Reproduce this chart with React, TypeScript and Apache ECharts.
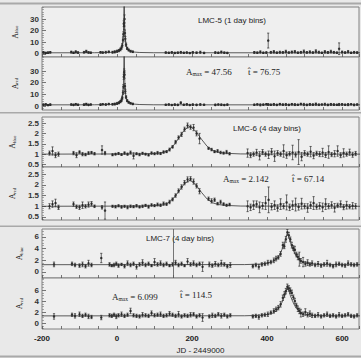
import React, { useEffect, useRef } from "react";
import * as echarts from "echarts";

// ---------------- DATA ----------------
// LMC-5 (1 day bins)
const lmc5Days = [-196,-190,-184,-178,-122,-116,-110,-104,-88,-82,-76,-70,-44,-38,-30,-22,-12,-6,0,5,9,12,14,16,17,18,19,20,21,22,24,27,31,36,42,130,138,146,154,162,170,178,186,194,202,212,222,232,262,270,278,286,294,366,374,382,390,398,403,410,418,426,434,442,450,458,466,474,482,490,498,506,514,522,530,538,546,554,562,570,578,586,592,600,608,616,624,632,640];
const lmc5Blue = [1.3,0.9,1.1,1.4,1.6,1.0,1.8,1.2,1.5,2.2,1.3,1.1,1.4,1.2,1.5,1.8,1.5,1.8,2.3,2.9,3.9,5.3,7.5,12,17,26,24,30,18,13,8.0,4.8,3.4,2.4,1.9,1.2,1.0,1.3,0.9,1.1,1.4,1.0,1.2,0.8,1.3,1.1,1.5,0.9,1.2,1.0,1.6,1.1,0.9,1.3,1.1,1.7,1.0,1.2,11.5,1.4,1.8,1.1,1.5,1.3,2.0,1.2,1.6,1.9,1.1,1.4,2.1,1.3,1.7,1.2,2.2,1.5,1.0,1.8,1.3,2.0,1.4,1.1,4.5,1.6,1.2,1.9,1.0,1.4,1.2];
const lmc5BlueErr = [0.6,0.5,0.7,0.6,0.8,0.6,0.9,0.7,0.7,1.0,0.6,0.5,0.7,0.6,0.8,0.7,0.8,0.9,1.0,1.0,1.2,1.3,1.5,1.8,2.0,2.5,3.0,3.5,2.5,2.0,1.5,1.0,0.9,0.8,0.7,0.6,0.5,0.7,0.5,0.6,0.8,0.5,0.6,0.5,0.7,0.6,0.9,0.5,0.7,0.6,0.9,0.6,0.5,0.8,0.6,1.0,0.6,0.7,6.4,0.8,1.1,0.6,0.9,0.7,1.2,0.6,0.9,1.1,0.6,0.8,1.3,0.7,1.0,0.7,1.4,0.9,0.6,1.1,0.8,1.2,0.8,0.6,5.0,0.9,0.7,1.1,0.6,0.8,0.7];
const lmc5Red = [1.1,1.4,0.8,1.2,1.3,1.0,1.5,1.1,1.2,1.6,1.0,1.3,1.2,1.5,1.3,1.7,1.5,1.7,2.2,2.8,3.8,5.0,7.2,11.5,16.5,25,29,27,17,12.5,7.6,4.6,3.2,2.4,1.8,1.1,1.3,0.9,1.2,1.0,2.8,1.1,1.4,0.9,1.2,1.0,1.3,1.1,1.0,1.3,1.1,0.9,1.2,1.1,1.4,1.0,1.2,1.5,1.3,1.1,1.4,1.0,1.6,1.2,1.3,1.0,1.5,1.2,1.1,1.7,1.3,1.0,1.4,1.2,1.6,1.1,1.3,1.5,1.0,1.4,1.2,1.1,1.3,1.4,1.1,1.2,1.5,1.0,1.3];
const lmc5RedErr = [0.5,0.6,0.5,0.6,0.6,0.5,0.7,0.6,0.6,0.8,0.5,0.5,0.6,0.5,0.7,0.6,0.7,0.8,0.9,0.9,1.0,1.2,1.4,1.6,1.8,2.2,2.8,3.2,2.2,1.8,1.3,0.9,0.8,0.7,0.6,0.5,0.6,0.5,0.6,0.5,0.8,0.5,0.6,0.5,0.6,0.5,0.7,0.5,0.6,0.5,0.7,0.5,0.5,0.6,0.5,0.8,0.5,0.6,0.7,0.6,0.8,0.5,0.7,0.6,0.9,0.5,0.7,0.8,0.5,0.7,1.0,0.6,0.8,0.6,1.0,0.7,0.5,0.9,0.6,0.8,0.7,0.5,0.9,0.7,0.6,0.9,0.5,0.7,0.6];
const lmc5FitDays = [-200,-120,-60,-21,-6,4,9,12,15,17,18,19,20,21,23,26,29,34,44,59,98,160,650];
const lmc5FitBlue = [1,1.02,1.07,1.3,1.7,2.7,3.9,5.5,9.5,17.8,30,47.6,30,17.8,9.5,5.5,3.9,2.7,1.7,1.3,1.07,1.02,1];
const lmc5FitRed = [1,1.02,1.07,1.3,1.7,2.7,3.9,5.5,9.5,17.8,30,47.6,30,17.8,9.5,5.5,3.9,2.7,1.7,1.3,1.07,1.02,1];

// LMC-6 (4 day bins)
const lmc6Days = [-180,-172,-164,-156,-116,-108,-100,-92,-84,-76,-68,-60,-40,-32,-12,-4,4,12,20,28,36,44,52,60,68,76,84,92,100,108,116,124,132,140,148,156,164,172,180,188,196,204,212,220,244,252,260,268,276,284,292,300,348,356,364,372,380,388,396,404,412,420,428,436,444,452,460,468,476,484,492,500,508,516,524,532,540,548,556,564,572,580,588,596,604,612,620,628,636];
const lmc6Blue = [1.05,1.15,0.95,1.0,1.05,0.95,1.1,1.0,0.98,1.05,1.08,1.02,1.2,1.05,0.97,1.0,1.03,0.98,1.05,1.0,1.08,0.92,1.02,0.98,1.04,1.0,0.96,1.05,1.02,1.06,1.03,1.1,1.12,1.22,1.35,1.58,1.8,1.95,2.2,2.38,2.3,2.28,2.0,1.75,1.28,1.22,1.12,1.15,1.08,1.05,1.1,1.02,1.05,0.95,1.0,1.08,0.92,1.1,1.0,0.97,1.12,0.9,1.05,1.0,1.15,0.95,1.02,1.08,0.98,1.1,0.88,1.05,1.0,1.12,0.93,1.04,1.0,1.08,0.96,1.1,0.98,1.02,1.15,0.95,1.06,1.0,1.09,0.97,1.03];
const lmc6BlueErr = [0.1,0.2,0.12,0.1,0.08,0.12,0.06,0.08,0.06,0.07,0.05,0.06,0.2,0.08,0.05,0.04,0.05,0.04,0.06,0.05,0.07,0.15,0.05,0.06,0.05,0.04,0.05,0.06,0.05,0.07,0.05,0.06,0.05,0.07,0.06,0.08,0.08,0.1,0.1,0.12,0.1,0.15,0.12,0.25,0.05,0.06,0.05,0.07,0.06,0.05,0.08,0.06,0.2,0.12,0.1,0.15,0.2,0.12,0.1,0.18,0.15,0.25,0.12,0.1,0.3,0.15,0.1,0.35,0.12,0.6,0.2,0.12,0.1,0.25,0.15,0.1,0.12,0.2,0.12,0.3,0.1,0.15,0.25,0.12,0.2,0.1,0.15,0.12,0.1];
const lmc6Red = [1.0,1.1,1.15,0.95,1.1,0.98,0.95,1.05,1.0,1.08,1.12,1.0,0.95,0.8,1.0,0.98,1.02,0.97,1.0,0.95,1.0,0.98,1.02,0.97,1.0,1.04,0.98,1.06,1.03,1.08,1.05,1.12,1.1,1.2,1.32,1.5,1.72,1.9,2.1,2.25,2.28,2.15,1.95,1.7,1.35,1.25,1.3,1.12,1.2,1.1,1.05,1.08,1.0,0.95,1.05,1.1,0.95,1.02,1.15,1.3,0.98,1.05,0.92,1.1,1.0,1.18,0.95,1.05,1.08,0.97,1.12,1.0,0.92,1.05,1.15,0.98,1.02,0.95,1.1,1.0,1.06,0.93,1.04,1.1,0.96,1.05,0.98,1.02,1.0];
const lmc6RedErr = [0.12,0.15,0.18,0.1,0.1,0.08,0.1,0.15,0.08,0.12,0.1,0.06,0.08,0.4,0.05,0.06,0.05,0.06,0.05,0.07,0.06,0.05,0.06,0.05,0.06,0.05,0.07,0.06,0.05,0.07,0.06,0.08,0.06,0.08,0.07,0.08,0.09,0.1,0.1,0.12,0.1,0.12,0.1,0.12,0.08,0.1,0.08,0.06,0.08,0.06,0.05,0.06,0.25,0.15,0.2,0.15,0.25,0.15,0.3,0.6,0.15,0.2,0.15,0.25,0.12,0.35,0.15,0.2,0.3,0.15,0.25,0.12,0.2,0.15,0.3,0.12,0.15,0.2,0.25,0.12,0.15,0.2,0.1,0.15,0.12,0.18,0.1,0.15,0.12];
const lmc6FitDays = [-200,60,100,120,135,150,165,180,195,210,225,240,255,270,290,330,650];
const lmc6FitBlue = [1,1.01,1.03,1.07,1.16,1.4,1.78,2.18,2.35,2.1,1.72,1.38,1.18,1.09,1.04,1.01,1];
const lmc6FitRed = [1,1.01,1.03,1.06,1.14,1.36,1.7,2.06,2.22,2.0,1.65,1.34,1.16,1.08,1.04,1.01,1];

// LMC-7 (4 day bins)
const lmc7Days = [-168,-120,-112,-100,-92,-84,-76,-68,-42,-20,-14,-8,-2,4,12,20,28,36,44,52,60,68,76,84,92,100,108,116,124,132,140,148,156,164,172,180,188,196,204,212,220,228,246,254,262,270,278,286,294,302,362,370,378,386,394,402,410,418,424,430,436,442,446,450,454,458,462,466,470,474,478,482,486,490,496,502,508,514,520,528,536,544,552,560,568,576,584,592,600,608,616,624,632,640];
const lmc7Blue = [1.3,1.4,1.2,1.1,1.3,1.0,1.5,1.2,2.4,1.3,1.1,1.2,1.4,1.1,1.3,1.0,1.5,1.2,1.4,0.9,1.3,1.6,1.2,1.4,1.1,1.7,1.3,1.5,1.2,1.4,1.1,1.3,1.6,1.2,1.4,1.1,1.8,1.3,1.5,1.2,1.4,0.9,1.3,1.1,1.4,1.2,1.5,1.3,1.0,1.2,1.0,1.2,0.9,1.3,1.4,1.6,1.7,2.0,2.3,2.5,3.1,4.6,4.4,5.6,6.8,6.3,5.6,4.6,4.1,3.8,3.0,2.6,2.2,1.9,1.7,1.4,1.6,1.3,1.5,1.2,1.4,1.1,1.3,1.5,1.2,1.0,1.3,1.4,1.2,1.1,1.5,1.3,1.2,1.3];
const lmc7BlueErr = [0.4,0.3,0.3,0.3,0.4,0.3,0.5,0.3,0.8,0.3,0.2,0.3,0.3,0.3,0.2,0.3,0.4,0.3,0.3,0.4,0.3,0.5,0.3,0.3,0.2,0.6,0.3,0.4,0.3,0.3,0.2,0.3,0.4,0.3,0.3,0.2,0.5,0.3,0.4,0.3,0.3,0.8,0.4,0.3,0.4,0.3,0.5,0.3,0.3,0.4,0.3,0.3,0.4,0.3,0.3,0.4,0.3,0.4,0.4,0.3,0.4,0.5,0.4,0.5,0.5,0.5,0.4,0.5,0.4,0.6,0.4,0.5,1.2,0.4,0.8,0.4,0.5,0.3,0.4,0.3,0.4,0.3,0.3,0.5,0.3,0.3,0.4,0.3,0.3,0.3,0.4,0.3,0.3,0.3];
const lmc7Red = [1.2,1.5,1.3,1.6,1.3,1.5,1.2,1.1,1.0,1.4,1.3,1.5,1.2,1.4,1.6,1.3,1.5,2.2,1.4,1.3,1.2,1.5,1.4,1.3,1.8,1.4,1.5,1.6,1.3,1.4,1.7,1.5,1.3,1.6,1.2,1.4,1.3,1.5,1.6,1.2,1.4,1.0,1.2,1.4,1.3,1.6,1.3,1.5,1.2,1.4,1.2,1.3,1.1,1.4,1.5,1.6,1.9,2.2,2.5,2.8,3.4,4.6,5.2,5.8,6.6,6.3,5.9,5.5,4.7,4.0,3.2,2.6,2.2,1.8,1.6,2.0,1.5,1.7,1.4,1.3,1.5,1.2,1.4,1.6,1.3,1.4,1.2,1.5,1.3,1.4,1.6,1.3,1.2,1.4];
const lmc7RedErr = [0.5,0.3,0.4,0.4,0.3,0.3,0.4,0.3,0.4,0.3,0.3,0.3,0.4,0.3,0.4,0.3,0.3,0.5,0.3,0.3,0.3,0.4,0.3,0.3,0.4,0.3,0.3,0.4,0.3,0.3,0.4,0.3,0.3,0.5,0.3,0.3,0.3,0.4,0.3,0.3,0.3,0.7,0.3,0.4,0.3,0.3,0.4,0.3,0.3,0.3,0.3,0.3,0.4,0.3,0.3,0.4,0.3,0.4,0.4,0.4,0.5,0.5,0.5,0.5,0.5,0.5,0.5,0.5,0.4,0.5,0.4,0.5,0.5,0.7,0.4,0.6,0.4,0.5,0.4,0.3,0.4,0.3,0.3,0.4,0.3,0.3,0.3,0.4,0.3,0.3,0.3,0.3,0.3,0.3];
const lmc7FitDays = [-200,340,380,400,415,425,433,440,446,450,454,458,462,468,475,482,490,500,515,535,570,650];
const lmc7FitBlue = [1.25,1.27,1.35,1.5,1.75,2.2,2.9,3.9,4.9,5.8,6.6,6.0,5.1,4.0,3.0,2.35,1.9,1.6,1.4,1.3,1.26,1.25];
const lmc7FitRed = [1.3,1.32,1.4,1.55,1.8,2.2,2.85,3.8,4.8,5.7,6.4,5.9,5.0,3.95,3.0,2.4,1.95,1.65,1.45,1.35,1.31,1.3];
const lmc7Marker = [150];

// axis tick labels
const xTickLabels = [-200, 0, 200, 400, 600];
const yTicksLmc5 = [0, 10, 20, 30];
const yTicksLmc6 = [0.5, 1, 1.5, 2, 2.5];
const yTicksLmc7 = [0, 2, 4, 6];

// ---------------- LAYOUT ----------------
const panels = [
  { top: 7, height: 50, min: -2.6, max: 40.3, ticks: yTicksLmc5, minorStep: 2, gap: 8, band: "blue", days: lmc5Days, vals: lmc5Blue, errs: lmc5BlueErr, fx: lmc5FitDays, fy: lmc5FitBlue },
  { top: 57, height: 53, min: -3.4, max: 42, ticks: yTicksLmc5, minorStep: 2, gap: 8, band: "red", days: lmc5Days, vals: lmc5Red, errs: lmc5RedErr, fx: lmc5FitDays, fy: lmc5FitRed },
  { top: 117, height: 50, min: 0.38, max: 2.79, ticks: yTicksLmc6, minorStep: 0.1, gap: 12.5, band: "blue", days: lmc6Days, vals: lmc6Blue, errs: lmc6BlueErr, fx: lmc6FitDays, fy: lmc6FitBlue },
  { top: 167, height: 53, min: 0.36, max: 2.83, ticks: yTicksLmc6, minorStep: 0.1, gap: 12.5, band: "red", days: lmc6Days, vals: lmc6Red, errs: lmc6RedErr, fx: lmc6FitDays, fy: lmc6FitRed },
  { top: 229, height: 49, min: -1.03, max: 7.37, ticks: yTicksLmc7, minorStep: 0.5, gap: 3.5, band: "blue", days: lmc7Days, vals: lmc7Blue, errs: lmc7BlueErr, fx: lmc7FitDays, fy: lmc7FitBlue },
  { top: 278, height: 51, min: -1.09, max: 8.2, ticks: yTicksLmc7, minorStep: 0.5, gap: 3.5, band: "red", days: lmc7Days, vals: lmc7Red, errs: lmc7RedErr, fx: lmc7FitDays, fy: lmc7FitRed },
];

const SANS = "Liberation Sans, Arial, Helvetica, sans-serif";
const SERIF = "Liberation Serif, DejaVu Serif, Times New Roman, serif";
const INK = "#222";

function minorTicks(min: number, max: number, step: number): number[] {
  const out: number[] = [];
  const start = Math.ceil(min / step) * step;
  for (let v = start; v <= max + 1e-9; v += step) out.push(Math.round(v * 1000) / 1000);
  return out;
}

function buildOption() {
  const grid: any[] = [];
  const xAxis: any[] = [];
  const yAxis: any[] = [];
  const series: any[] = [];

  panels.forEach((p, i) => {
    grid.push({
      left: 42, right: 2, top: p.top, height: p.height,
      show: true, borderColor: "#808080", borderWidth: 1, backgroundColor: "#efefef",
    });
    const last = i === panels.length - 1;
    xAxis.push({
      gridIndex: i, type: "value", min: -200, max: 645, interval: 50, position: "bottom",
      axisLine: { show: false, onZero: false },
      axisTick: { show: true, inside: true, length: 3, lineStyle: { color: "#555", width: 0.8 } },
      axisLabel: { show: last, customValues: xTickLabels, fontSize: 8, fontWeight: "bold", color: INK, fontFamily: SANS, margin: 5 },
      splitLine: { show: false },
      name: last ? "JD - 2449000" : "",
      nameLocation: "middle", nameGap: 17,
      nameTextStyle: { fontSize: 8, color: INK, fontFamily: SANS },
    });
    yAxis.push({
      gridIndex: i, type: "value", position: "left", min: p.min, max: p.max,
      axisLine: { show: false, onZero: false },
      axisTick: { show: true, inside: true, length: 4, customValues: p.ticks, lineStyle: { color: "#555", width: 0.8 } },
      axisLabel: { customValues: p.ticks, fontSize: 8, fontWeight: "bold", color: "#333", fontFamily: SANS, margin: 3 },
      splitLine: { show: false },
      name: `{a|A}{s|${p.band}}`,
      nameLocation: "middle", nameRotate: 90, nameGap: p.gap,
      nameTextStyle: {
        color: INK,
        rich: {
          a: { fontSize: 7.5, fontFamily: SERIF, color: INK, verticalAlign: "bottom", lineHeight: 8 },
          s: { fontSize: 4.5, fontFamily: SERIF, color: INK, verticalAlign: "bottom", lineHeight: 6 },
        },
      },
    });
    yAxis.push({
      gridIndex: i, type: "value", position: "left", min: p.min, max: p.max,
      axisLine: { show: false, onZero: false },
      axisTick: { show: true, inside: true, length: 2, customValues: minorTicks(p.min, p.max, p.minorStep), lineStyle: { color: "#777", width: 0.6 } },
      axisLabel: { show: false },
      splitLine: { show: false },
    });

    const yIdx = i * 2;
    const fit = p.fx.map((d, k) => [d, p.fy[k]]);
    const lineSeries: any = {
      type: "line", xAxisIndex: i, yAxisIndex: yIdx, data: fit,
      showSymbol: false, symbol: "none", clip: true, silent: true,
      lineStyle: { color: "#333", width: 0.8 },
    };
    if (i === 4) {
      lineSeries.markLine = {
        silent: true, symbol: "none", label: { show: false },
        lineStyle: { color: "#555", width: 0.8, type: "solid" },
        data: lmc7Marker.map((v) => ({ xAxis: v })),
      };
    }
    series.push(lineSeries);

    const pts = p.days.map((d, k) => [d, p.vals[k], p.errs[k]]);
    series.push({
      type: "custom", xAxisIndex: i, yAxisIndex: yIdx, data: pts, clip: true, silent: true,
      encode: { x: 0, y: 1 },
      renderItem: (params: any, api: any) => {
        const x = api.value(0);
        const y = api.value(1);
        const e = api.value(2);
        const a = api.coord([x, y + e]);
        const b = api.coord([x, y - e]);
        const style = { stroke: "#2e2e2e", lineWidth: 0.7 };
        const cap = 1.1;
        return {
          type: "group",
          children: [
            { type: "line", shape: { x1: a[0], y1: a[1], x2: b[0], y2: b[1] }, style },
            { type: "line", shape: { x1: a[0] - cap, y1: a[1], x2: a[0] + cap, y2: a[1] }, style },
            { type: "line", shape: { x1: b[0] - cap, y1: b[1], x2: b[0] + cap, y2: b[1] }, style },
          ],
        };
      },
    });
    series.push({
      type: "scatter", xAxisIndex: i, yAxisIndex: yIdx, data: pts.map((q) => [q[0], q[1]]),
      symbol: "circle", symbolSize: 2.5, clip: true, silent: true,
      itemStyle: { color: "#151515" },
    });
  });

  const sub = (a: string, s: string, rest: string) => `{a|${a}}{s|${s}}{a|${rest}}`;
  const richAmax = {
    a: { fontSize: 9, fontFamily: SERIF, fill: INK, color: INK, verticalAlign: "bottom", lineHeight: 11 },
    s: { fontSize: 5.5, fontFamily: SERIF, fill: INK, color: INK, verticalAlign: "bottom", lineHeight: 8 },
  };

  const texts: any[] = [
    { t: "LMC-5 (1 day bins)", x: 198, y: 20 },
    { t: "LMC-6 (4 day bins)", x: 233, y: 128 },
    { t: "LMC-7 (4 day bins)", x: 146, y: 238 },
  ].map((o) => ({
    type: "text", x: o.x, y: o.y, silent: true,
    style: { text: o.t, fontSize: 8, fontFamily: SANS, fill: INK, verticalAlign: "middle" },
  }));

  const ann = [
    { t: sub("A", "max", " = 47.56"), x: 186, y: 71 },
    { t: "{a|t\u0302 = 76.75}", x: 248, y: 71 },
    { t: sub("A", "max", " = 2.142"), x: 223, y: 178 },
    { t: "{a|t\u0302 = 67.14}", x: 292, y: 178 },
    { t: sub("A", "max", " = 6.099"), x: 112, y: 296 },
    { t: "{a|t\u0302 = 114.5}", x: 180, y: 294 },
  ].map((o) => ({
    type: "text", x: o.x, y: o.y, silent: true,
    style: { text: o.t, rich: richAmax, fontSize: 9, fontFamily: SERIF, fill: INK, verticalAlign: "middle" },
  }));

  const frames = [
    { y: 2.5, h: 2 },
    { y: 112, h: 1.5 },
    { y: 225.5, h: 1.5 },
    { y: 355.5, h: 2 },
  ].map((f) => ({
    type: "rect", silent: true, shape: { x: 0, y: f.y, width: 361, height: f.h },
    style: { fill: "#a9a9a9" },
  }));

  return {
    animation: false,
    backgroundColor: "#e9e9e9",
    grid, xAxis, yAxis, series,
    graphic: [...frames, ...texts, ...ann],
  };
}

export default function App() {
  const ref = useRef<HTMLDivElement>(null);
  useEffect(() => {
    if (!ref.current) return;
    const chart = echarts.init(ref.current, undefined, { renderer: "svg" });
    chart.setOption(buildOption() as any);
    return () => chart.dispose();
  }, []);
  return (
    <div
      ref={ref}
      style={{ position: "absolute", left: 0, top: 0, width: 361, height: 358, background: "#e9e9e9" }}
    />
  );
}
